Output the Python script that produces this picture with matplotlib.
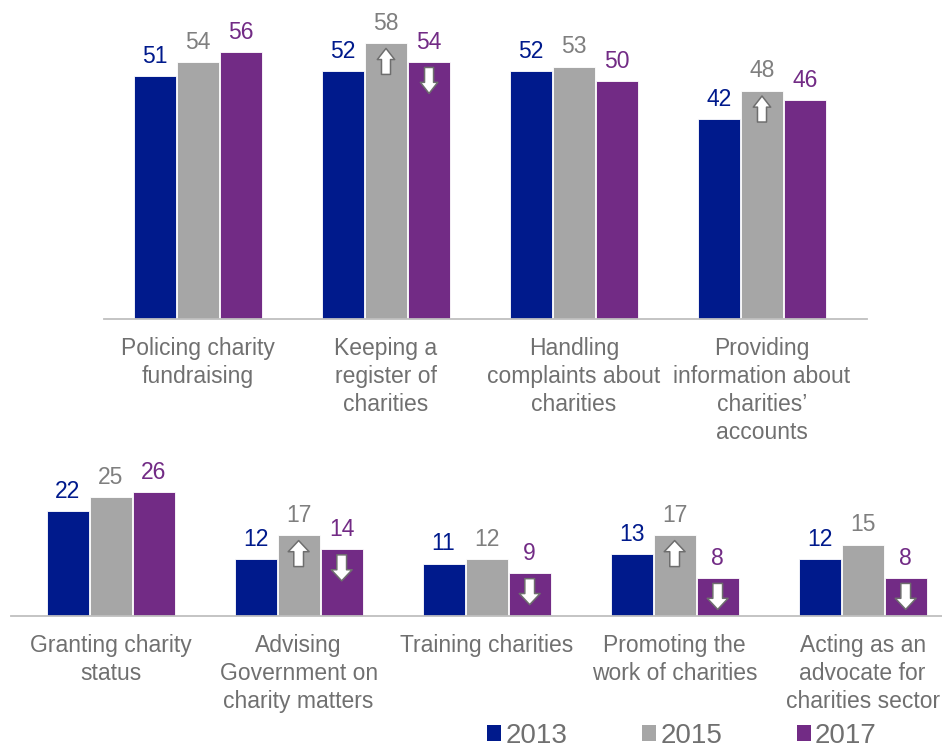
import matplotlib
matplotlib.use("Agg")
import matplotlib.pyplot as plt
from matplotlib.patches import Patch
from matplotlib.transforms import offset_copy

plt.rcParams['font.family'] = ['Liberation Sans', 'DejaVu Sans']

# ---- data ----
years = ["2013", "2015", "2017"]

top_cats = ["Policing charity\nfundraising",
            "Keeping a\nregister of\ncharities",
            "Handling\ncomplaints about\ncharities",
            "Providing\ninformation about\ncharities\u2019\naccounts"]
top_2013 = [51, 52, 52, 42]
top_2015 = [54, 58, 53, 48]
top_2017 = [56, 54, 50, 46]
# (category index, series index, direction) for significant changes
top_arrows = [(1, 1, "up"), (1, 2, "down"), (3, 1, "up")]

bot_cats = ["Granting charity\nstatus",
            "Advising\nGovernment on\ncharity matters",
            "Training charities",
            "Promoting the\nwork of charities",
            "Acting as an\nadvocate for\ncharities sector"]
bot_2013 = [22, 12, 11, 13, 12]
bot_2015 = [25, 17, 12, 17, 15]
bot_2017 = [26, 14, 9, 8, 8]
bot_arrows = [(1, 1, "up"), (1, 2, "down"), (2, 2, "down"),
              (3, 1, "up"), (3, 2, "down"), (4, 2, "down")]

bar_colors = ["#001A8C", "#A6A6A6", "#722B85"]
label_colors = ["#001A8C", "#7F7F7F", "#722B85"]
text_gray = "#707070"
axis_gray = "#BFBFBF"

W, H = 942, 749
fig = plt.figure(figsize=(W / 100, H / 100), dpi=100)

PX_PER_UNIT = 4.76
GROUP_PX = 188
BAR_W = 0.223
OFFSET = 0.229


def draw_panel(ax, cats, series, arrows, head_w, tail_w):
    n = len(cats)
    x = list(range(n))
    for s, vals in enumerate(series):
        xs = [i + (s - 1) * OFFSET for i in x]
        bars = ax.bar(xs, vals, width=BAR_W, color=bar_colors[s],
                      edgecolor="white", linewidth=0.6, zorder=2)
        for b, v in zip(bars, vals):
            ax.annotate(str(v), (b.get_x() + b.get_width() / 2, v),
                        xytext=(0, 6), textcoords="offset points",
                        ha="center", va="bottom", fontsize=16.5,
                        color=label_colors[s], annotation_clip=False)
    style = f"simple,head_length=8,head_width={head_w},tail_width={tail_w}"
    for i, s, d in arrows:
        vals = series[s]
        xc = i + (s - 1) * OFFSET
        near = offset_copy(ax.transData, fig=fig, y=-5.5, units="dots")
        far = offset_copy(ax.transData, fig=fig, y=-31.5, units="dots")
        if d == "up":
            head, tail = near, far
        else:
            head, tail = far, near
        ax.annotate("", xy=(xc, vals[i]), xycoords=head,
                    xytext=(xc, vals[i]), textcoords=tail,
                    arrowprops=dict(arrowstyle=style, mutation_scale=1,
                                    fc="white", ec="#6E6E6E",
                                    lw=1.1, shrinkA=0, shrinkB=0),
                    zorder=3, annotation_clip=False)
    ax.set_xticks(x)
    ax.set_xticklabels(cats, fontsize=16.5, color=text_gray, linespacing=1.28)
    ax.tick_params(axis="x", length=0, pad=13)
    ax.set_yticks([])
    for side in ["left", "right", "top"]:
        ax.spines[side].set_visible(False)
    ax.spines["bottom"].set_color(axis_gray)
    ax.spines["bottom"].set_linewidth(1.3)
    ax.set_facecolor("none")


# top panel
x0, x1 = -0.5, 3.56
ax1 = fig.add_axes([104 / W, 1 - 319 / H, (x1 - x0) * GROUP_PX / W, 60 * PX_PER_UNIT / H])
draw_panel(ax1, top_cats, [top_2013, top_2015, top_2017], top_arrows, 12.5, 6.5)
ax1.set_xlim(x0, x1)
ax1.set_ylim(0, 60)

# bottom panel
x0, x1 = -0.53, 4.5
ax2 = fig.add_axes([11 / W, 1 - 616 / H, (x1 - x0) * GROUP_PX / W, 30 * PX_PER_UNIT / H])
draw_panel(ax2, bot_cats, [bot_2013, bot_2015, bot_2017], bot_arrows, 15, 7)
ax2.set_xlim(x0, x1)
ax2.set_ylim(0, 30)

handles = [Patch(facecolor=c, edgecolor="none") for c in bar_colors]
fig.legend(handles, years, loc="center", bbox_to_anchor=(0.724, 0.017),
           ncol=3, frameon=False, fontsize=20, labelcolor=text_gray,
           handlelength=0.5, handleheight=0.5, handletextpad=0.15,
           columnspacing=2.7, borderpad=0)

fig.savefig("out.png", dpi=100)
